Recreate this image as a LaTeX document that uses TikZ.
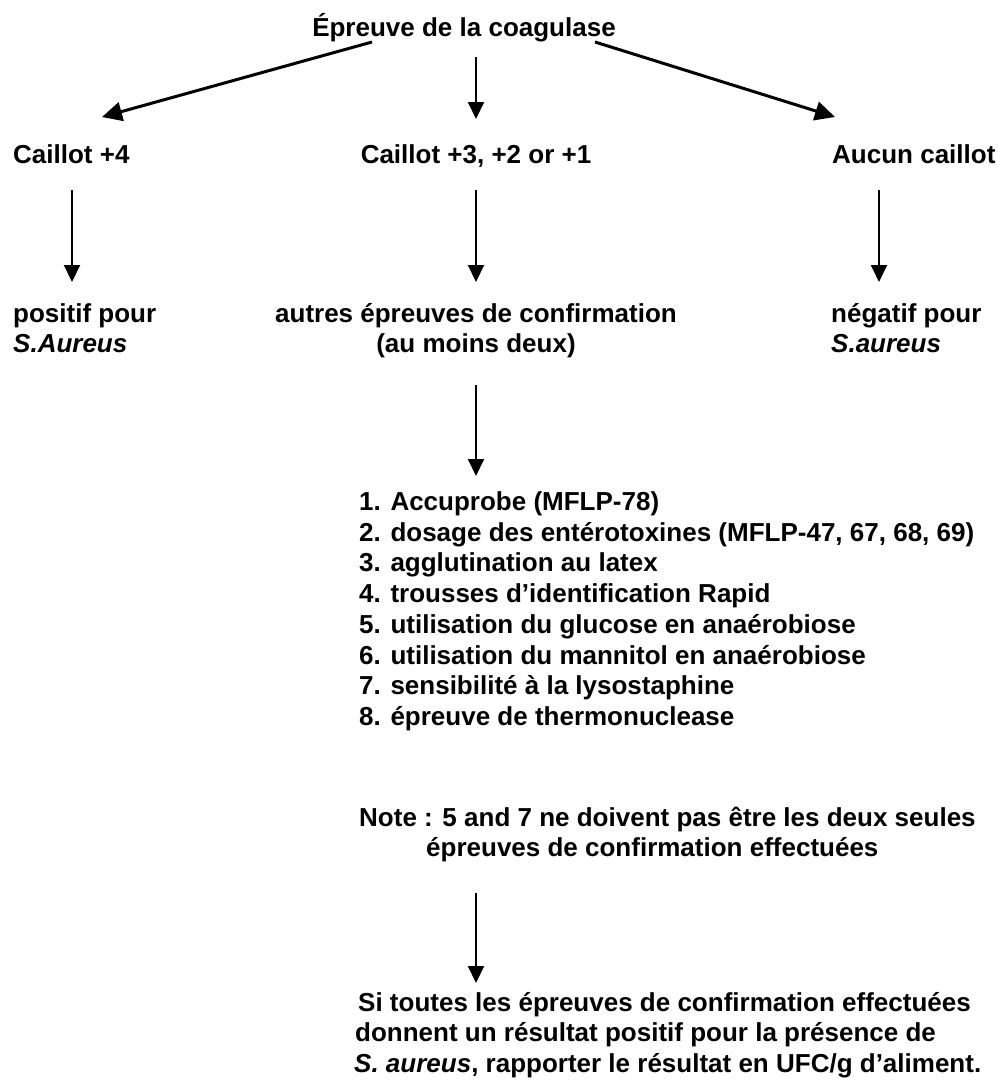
\documentclass[tikz,border=0pt]{standalone}
\usepackage{fontspec}
\setmainfont{Liberation Sans}
\usetikzlibrary{arrows.meta}
\begin{document}
\begin{tikzpicture}[x=1pt,y=-1pt,
  every node/.style={font=\fontsize{26}{27}\selectfont\bfseries, inner sep=0pt},
  lbl/.style={anchor=base west},
  ctr/.style={anchor=base},
  varr/.style={line width=2pt, -{Triangle[length=17pt,width=16pt]}},
  darr/.style={line width=3pt, -{Triangle[length=20pt,width=19pt]}}]
\useasboundingbox[fill=white] (0,0) rectangle (998,1084);

% texts
\node[ctr] (title) at (464,36) {Épreuve de la coagulase};
\node[lbl] (c1) at (13,163) {Caillot +4};
\node[ctr] (c2) at (476,163) {Caillot +3, +2 or +1};
\node[lbl] (c3) at (832,163) {Aucun caillot};

\node[lbl] (p1a) at (13,322) {positif pour};
\node[lbl] (p1b) at (13,352) {\textit{S.Aureus}};
\node[ctr] (p2a) at (476,322) {autres épreuves de confirmation};
\node[ctr] (p2b) at (476,352) {(au moins deux)};
\node[lbl] (p3a) at (831,322) {négatif pour};
\node[lbl] (p3b) at (831,352) {\textit{S.aureus}};

\node[lbl] (l1) at (359,510.5) {1. Accuprobe (MFLP-78)};
\node[lbl] (l2) at (359,541.2) {2. dosage des entérotoxines (MFLP-47, 67, 68, 69)};
\node[lbl] (l3) at (359,571.9) {3. agglutination au latex};
\node[lbl] (l4) at (359,602.6) {4. trousses d’identification Rapid};
\node[lbl] (l5) at (359,633.3) {5. utilisation du glucose en anaérobiose};
\node[lbl] (l6) at (359,664) {6. utilisation du mannitol en anaérobiose};
\node[lbl] (l7) at (359,694.7) {7. sensibilité à la lysostaphine};
\node[lbl] (l8) at (359,725.4) {8. épreuve de thermonuclease};

\node[lbl] (n1) at (359,826) {Note : 5 and 7 ne doivent pas être les deux seules};
\node[lbl] (n2) at (426,856.5) {épreuves de confirmation effectuées};

\node[lbl] (f1) at (358,1011) {Si toutes les épreuves de confirmation effectuées};
\node[lbl] (f2) at (355,1041.5) {donnent un résultat positif pour la présence de};
\node[lbl] (f3) at (354,1072) {\textit{S. aureus}, rapporter le résultat en UFC/g d’aliment.};

% connector end points
\coordinate (tL) at (372,42);
\coordinate (tM) at (476,57);
\coordinate (tR) at (595,42);
\coordinate (hL) at (102,117);
\coordinate (hM) at (476,119);
\coordinate (hR) at (835,117);
\coordinate (v1s) at (72,190);   \coordinate (v1e) at (72,282);
\coordinate (v2s) at (476,190);  \coordinate (v2e) at (476,282);
\coordinate (v3s) at (879,190);  \coordinate (v3e) at (879,282);
\coordinate (v4s) at (476,385);  \coordinate (v4e) at (476,476);
\coordinate (v5s) at (476,893);  \coordinate (v5e) at (476,983);

% connectors
\draw[darr] (tL) -- (hL);
\draw[varr] (tM) -- (hM);
\draw[darr] (tR) -- (hR);
\draw[varr] (v1s) -- (v1e);
\draw[varr] (v2s) -- (v2e);
\draw[varr] (v3s) -- (v3e);
\draw[varr] (v4s) -- (v4e);
\draw[varr] (v5s) -- (v5e);
\end{tikzpicture}
\end{document}
